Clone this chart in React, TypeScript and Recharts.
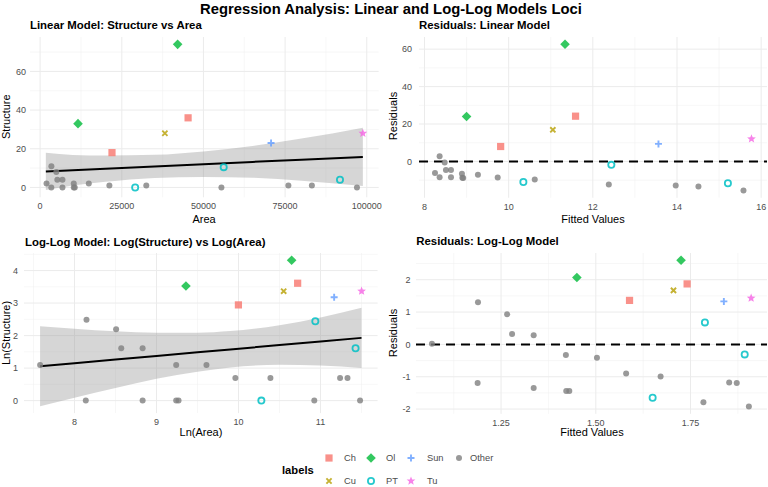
import React from 'react';
import { ComposedChart, Scatter, Line, Area, XAxis, YAxis, CartesianGrid, ReferenceLine } from 'recharts';

const FONT = '"Liberation Sans", Arial, Helvetica, sans-serif';

// ---------- data ----------
const categories = ['Other', 'Ch', 'Cu', 'Ol', 'PT', 'Sun', 'Tu'];
const legendRow1 = ['Ch', 'Ol', 'Sun', 'Other'];
const legendRow2 = ['Cu', 'PT', 'Tu'];

const pointLabels = [
  'Other', 'Other', 'Other', 'Other', 'Other', 'Other', 'Other', 'Other', 'Other',
  'Other', 'Other', 'Other', 'Other', 'Other', 'Other', 'Other', 'Other',
  'Ch', 'Ch', 'Cu', 'Ol', 'Ol', 'PT', 'PT', 'PT', 'Sun', 'Tu',
];
const areaValues = [
  1960, 3420, 3450, 4950, 5270, 6840, 6840, 10300, 10300,
  10600, 14900, 21200, 32500, 55500, 76000, 83200, 97000,
  22000, 45300, 38200, 11600, 42100, 29100, 56200, 91800, 70700, 98800,
];
const structureValues = [
  2, 0, 11, 8, 4, 4, 0, 2, 0,
  0, 2, 1, 1, 0, 1, 1, 0,
  18, 36, 28, 33, 74, 0, 10.5, 4, 23, 28,
];
const linearFitted = [
  8.25, 8.36, 8.36, 8.48, 8.51, 8.63, 8.63, 8.89, 8.9,
  8.92, 9.27, 9.74, 10.62, 12.38, 13.97, 14.51, 15.58,
  9.81, 11.59, 11.05, 9.0, 11.34, 10.35, 12.44, 15.21, 13.56, 15.77,
];
const linearResiduals = [
  -6.2, -8.4, 2.85, -0.5, -4.6, -4.6, -8.4, -6.6, -8.7,
  -8.8, -7.1, -8.5, -9.6, -12.3, -12.8, -13.3, -15.5,
  8.0, 24.2, 16.9, 24.0, 62.6, -11.0, -1.8, -11.6, 9.4, 12.1,
];
const logFitted = [
  1.0675, 1.188, 1.189, 1.266, 1.279, 1.336, 1.336, 1.421, 1.422,
  1.43, 1.503, 1.58, 1.671, 1.784, 1.852, 1.872, 1.904,
  1.589, 1.741, 1.705, 1.45, 1.725, 1.65, 1.788, 1.893, 1.838, 1.91,
];
const logResiduals = [
  0.02, -1.19, 1.3, 0.93, 0.32, 0.28, -1.35, -0.33, -1.44,
  -1.44, -0.41, -0.9, -0.99, -1.79, -1.18, -1.19, -1.92,
  1.36, 1.87, 1.67, 2.07, 2.6, -1.65, 0.68, -0.31, 1.33, 1.43,
];

// regression line and confidence band
const linBandX = [1750, 10000, 20000, 35000, 50000, 65000, 80000, 98800];
const linBandFit = [8.29, 8.93, 9.7, 10.86, 12.03, 13.19, 14.35, 15.8];
const linBandLo = [-1.31, 1.03, 2.9, 4.86, 5.43, 4.99, 3.45, 0.7];
const linBandHi = [17.89, 16.83, 16.5, 16.86, 18.63, 21.39, 25.25, 30.9];

const logBandX = [7.58, 8.0, 8.5, 9.0, 9.5, 9.9, 10.5, 11.0, 11.5];
const logBandFit = [1.06, 1.153, 1.264, 1.375, 1.486, 1.575, 1.708, 1.819, 1.93];
const logBandLo = [-0.17, 0.09, 0.39, 0.67, 0.89, 1.02, 1.1, 1.08, 1.0];
const logBandHi = [2.29, 2.21, 2.13, 2.09, 2.09, 2.14, 2.32, 2.56, 2.86];

// ticks
const p1XTicks = [0, 25000, 50000, 75000, 100000];
const p1XMinor = [12500, 37500, 62500, 87500];
const p1YTicks = [0, 20, 40, 60];
const p1YMinor = [10, 30, 50, 70];
const p2XTicks = [8, 10, 12, 14, 16];
const p2XMinor = [9, 11, 13, 15];
const p2YTicks = [0, 20, 40, 60];
const p2YMinor = [-10, 10, 30, 50];
const p3XTicks = [8, 9, 10, 11];
const p3XMinor = [7.5, 8.5, 9.5, 10.5, 11.5];
const p3YTicks = [0, 1, 2, 3, 4];
const p3YMinor = [0.5, 1.5, 2.5, 3.5, 4.5];
const p4XTicks = [1.25, 1.5, 1.75];
const p4XMinor = [1.125, 1.375, 1.625, 1.875];
const p4YTicks = [-2, -1, 0, 1, 2];
const p4YMinor = [-1.5, -0.5, 0.5, 1.5, 2.5];

const COLORS: Record<string, string> = {
  Ch: '#F8766D', Cu: '#B79F00', Ol: '#00BA38', PT: '#00BFC4', Sun: '#619CFF', Tu: '#F564E3', Other: '#7F7F7F',
};

// ---------- markers ----------
function starPoints(cx: number, cy: number, R: number, r: number) {
  const pts: string[] = [];
  for (let i = 0; i < 10; i++) {
    const rad = i % 2 === 0 ? R : r;
    const a = -Math.PI / 2 + (i * Math.PI) / 5;
    pts.push(`${cx + rad * Math.cos(a)},${cy + rad * Math.sin(a)}`);
  }
  return pts.join(' ');
}

function Marker({ label, cx, cy }: { label: string; cx: number; cy: number }) {
  const c = COLORS[label];
  if (cx == null || cy == null || isNaN(cx) || isNaN(cy)) return <g />;
  switch (label) {
    case 'Ch':
      return <rect x={cx - 3.6} y={cy - 3.6} width={7.2} height={7.2} fill={c} fillOpacity={0.8} />;
    case 'Ol':
      return (
        <polygon
          points={`${cx},${cy - 4.8} ${cx + 4.8},${cy} ${cx},${cy + 4.8} ${cx - 4.8},${cy}`}
          fill={c}
          fillOpacity={0.8}
        />
      );
    case 'Cu':
      return (
        <path
          d={`M${cx - 2.6},${cy - 2.6}L${cx + 2.6},${cy + 2.6}M${cx - 2.6},${cy + 2.6}L${cx + 2.6},${cy - 2.6}`}
          stroke={c}
          strokeWidth={1.9}
          strokeOpacity={0.8}
          fill="none"
        />
      );
    case 'Sun':
      return (
        <path
          d={`M${cx - 3.5},${cy}L${cx + 3.5},${cy}M${cx},${cy - 3.5}L${cx},${cy + 3.5}`}
          stroke={c}
          strokeWidth={1.9}
          strokeOpacity={0.8}
          fill="none"
        />
      );
    case 'PT':
      return <circle cx={cx} cy={cy} r={3.1} fill="none" stroke={c} strokeWidth={1.8} strokeOpacity={0.85} />;
    case 'Tu':
      return <polygon points={starPoints(cx, cy, 4.6, 2.0)} fill={c} fillOpacity={0.8} />;
    default:
      return <circle cx={cx} cy={cy} r={3} fill={c} fillOpacity={0.8} />;
  }
}

// ---------- panel ----------
type Box = { l: number; t: number; r: number; b: number };
type Pt = { x: number; y: number };

function buildPoints(xs: number[], ys: number[]) {
  const out: Record<string, Pt[]> = {};
  categories.forEach((c) => (out[c] = []));
  pointLabels.forEach((lab, i) => out[lab].push({ x: xs[i], y: ys[i] }));
  return out;
}

function buildBand(xs: number[], fit: number[], lo: number[], hi: number[]) {
  return xs.map((x, i) => ({ x, fit: fit[i], band: [lo[i], hi[i]] }));
}

const tickStyle = { fill: '#4D4D4D', fontSize: 9, fontFamily: FONT };

function Panel(props: {
  box: Box;
  xDomain: [number, number];
  yDomain: [number, number];
  xTicks: number[];
  xMinor: number[];
  yTicks: number[];
  yMinor: number[];
  xFmt?: (v: number) => string;
  yGap: number;
  rightPad: number;
  points: Record<string, Pt[]>;
  band?: { x: number; fit: number; band: number[] }[];
  zero?: boolean;
}) {
  const { box } = props;
  const YW = 40;
  const XH = 24;
  const RP = props.rightPad;
  const w = box.r - box.l + YW + RP;
  const h = box.b - box.t + XH;
  return (
    <div style={{ position: 'absolute', left: box.l - YW, top: box.t }}>
      <ComposedChart width={w} height={h} data={props.band ?? []} margin={{ top: 0, right: RP, bottom: 0, left: 0 }}>
        <CartesianGrid
          horizontalValues={props.yMinor}
          verticalValues={props.xMinor}
          stroke="#EEEEEE"
          strokeWidth={0.5}
        />
        <CartesianGrid
          horizontalValues={props.yTicks}
          verticalValues={props.xTicks}
          stroke="#EBEBEB"
          strokeWidth={1}
        />
        <XAxis
          type="number"
          dataKey="x"
          domain={props.xDomain}
          ticks={props.xTicks}
          allowDataOverflow
          interval={0}
          tickLine={false}
          axisLine={false}
          tickSize={0}
          tickMargin={5.5}
          height={XH}
          tick={tickStyle}
          tickFormatter={props.xFmt}
        />
        <YAxis
          type="number"
          dataKey="y"
          domain={props.yDomain}
          ticks={props.yTicks}
          allowDataOverflow
          interval={0}
          tickLine={false}
          axisLine={false}
          tickSize={0}
          tickMargin={props.yGap}
          width={YW}
          tick={tickStyle}
        />
        {props.band && (
          <Area
            dataKey="band"
            type="monotone"
            fill="#999999"
            fillOpacity={0.4}
            stroke="none"
            isAnimationActive={false}
            activeDot={false}
          />
        )}
        {props.band && (
          <Line dataKey="fit" type="linear" stroke="#000000" strokeWidth={2} dot={false} activeDot={false} isAnimationActive={false} />
        )}
        {props.zero && (
          <ReferenceLine y={0} stroke="#000000" strokeWidth={2} strokeDasharray="9 6" />
        )}
        {categories.map((c) => (
          <Scatter
            key={c}
            data={props.points[c]}
            isAnimationActive={false}
            shape={(p: any) => <Marker label={c} cx={p.cx} cy={p.cy} />}
          />
        ))}
      </ComposedChart>
    </div>
  );
}

// ---------- legend ----------
function LegendBlock() {
  const col1 = [329, 371, 411, 459];
  const txt1 = [344, 386, 427, 470];
  return (
    <g>
      <text x={282} y={470} fontFamily={FONT} fontSize={11.2} fontWeight="bold" fill="#000" dominantBaseline="central">
        labels
      </text>
      {legendRow1.map((lab, i) => (
        <g key={lab}>
          <Marker label={lab} cx={col1[i]} cy={458} />
          <text x={txt1[i]} y={458} fontFamily={FONT} fontSize={9.3} fill="#4D4D4D" dominantBaseline="central">
            {lab}
          </text>
        </g>
      ))}
      {legendRow2.map((lab, i) => (
        <g key={lab}>
          <Marker label={lab} cx={col1[i]} cy={481} />
          <text x={txt1[i]} y={481} fontFamily={FONT} fontSize={9.3} fill="#4D4D4D" dominantBaseline="central">
            {lab}
          </text>
        </g>
      ))}
    </g>
  );
}

export default function App() {
  const p1 = buildPoints(areaValues, structureValues);
  const p2 = buildPoints(linearFitted, linearResiduals);
  const p3 = buildPoints(
    areaValues.map((a) => Math.log(a)),
    structureValues.map((s) => Math.log(s + 1)),
  );
  const p4 = buildPoints(logFitted, logResiduals);
  const linBand = buildBand(linBandX, linBandFit, linBandLo, linBandHi);
  const logBand = buildBand(logBandX, logBandFit, logBandLo, logBandHi);

  const titleStyle = { fontFamily: FONT, fontSize: 11.4, fontWeight: 'bold' as const, fill: '#000' };
  const axTitle = { fontFamily: FONT, fontSize: 11, fill: '#000' };

  return (
    <div style={{ position: 'absolute', left: 0, top: 0, width: 768, height: 487, background: '#fff', overflow: 'hidden' }}>
      <Panel
        box={{ l: 29.9, t: 36.6, r: 378.6, b: 196.9 }}
        xDomain={[-3100, 103650]}
        yDomain={[-5.1, 77.8]}
        xTicks={p1XTicks}
        xMinor={p1XMinor}
        yTicks={p1YTicks}
        yMinor={p1YMinor}
        yGap={4}
        rightPad={12}
        points={p1}
        band={linBand}
      />
      <Panel
        box={{ l: 418.5, t: 36.5, r: 767.4, b: 197.3 }}
        xDomain={[7.87, 16.16]}
        yDomain={[-19.4, 66.5]}
        xTicks={p2XTicks}
        xMinor={p2XMinor}
        yTicks={p2YTicks}
        yMinor={p2YMinor}
        yGap={7}
        rightPad={0}
        points={p2}
        zero
      />
      <Panel
        box={{ l: 24.2, t: 253.1, r: 377.8, b: 413.2 }}
        xDomain={[7.384, 11.696]}
        yDomain={[-0.384, 4.541]}
        xTicks={p3XTicks}
        xMinor={p3XMinor}
        yTicks={p3YTicks}
        yMinor={p3YMinor}
        yGap={6}
        rightPad={4}
        points={p3}
        band={logBand}
      />
      <Panel
        box={{ l: 416.2, t: 252.6, r: 767.3, b: 413.4 }}
        xDomain={[1.0254, 1.9521]}
        yDomain={[-2.146, 2.826]}
        xTicks={p4XTicks}
        xMinor={p4XMinor}
        yTicks={p4YTicks}
        yMinor={p4YMinor}
        xFmt={(v: number) => v.toFixed(2)}
        yGap={5.5}
        rightPad={0}
        points={p4}
        zero
      />
      <svg width={768} height={487} style={{ position: 'absolute', left: 0, top: 0, pointerEvents: 'none' }}>
        <text x={391} y={8.5} textAnchor="middle" dominantBaseline="central" fontFamily={FONT} fontSize={14.8} fontWeight="bold" fill="#000">
          Regression Analysis: Linear and Log-Log Models Loci
        </text>
        <text x={30} y={25} dominantBaseline="central" {...titleStyle}>Linear Model: Structure vs Area</text>
        <text x={419} y={25} dominantBaseline="central" {...titleStyle}>Residuals: Linear Model</text>
        <text x={25} y={242} dominantBaseline="central" {...titleStyle}>Log-Log Model: Log(Structure) vs Log(Area)</text>
        <text x={416.3} y={241} dominantBaseline="central" {...titleStyle}>Residuals: Log-Log Model</text>

        <text x={204} y={219} textAnchor="middle" dominantBaseline="central" {...axTitle}>Area</text>
        <text x={0} y={0} textAnchor="middle" dominantBaseline="central" transform="translate(6,116.7) rotate(-90)" {...axTitle}>Structure</text>
        <text x={593} y={219} textAnchor="middle" dominantBaseline="central" {...axTitle}>Fitted Values</text>
        <text x={0} y={0} textAnchor="middle" dominantBaseline="central" transform="translate(393.3,116) rotate(-90)" {...axTitle}>Residuals</text>
        <text x={201} y={432} textAnchor="middle" dominantBaseline="central" {...axTitle}>Ln(Area)</text>
        <text x={0} y={0} textAnchor="middle" dominantBaseline="central" transform="translate(6,333) rotate(-90)" {...axTitle}>Ln(Structure)</text>
        <text x={592} y={432} textAnchor="middle" dominantBaseline="central" {...axTitle}>Fitted Values</text>
        <text x={0} y={0} textAnchor="middle" dominantBaseline="central" transform="translate(393,333) rotate(-90)" {...axTitle}>Residuals</text>

        <LegendBlock />
      </svg>
    </div>
  );
}
